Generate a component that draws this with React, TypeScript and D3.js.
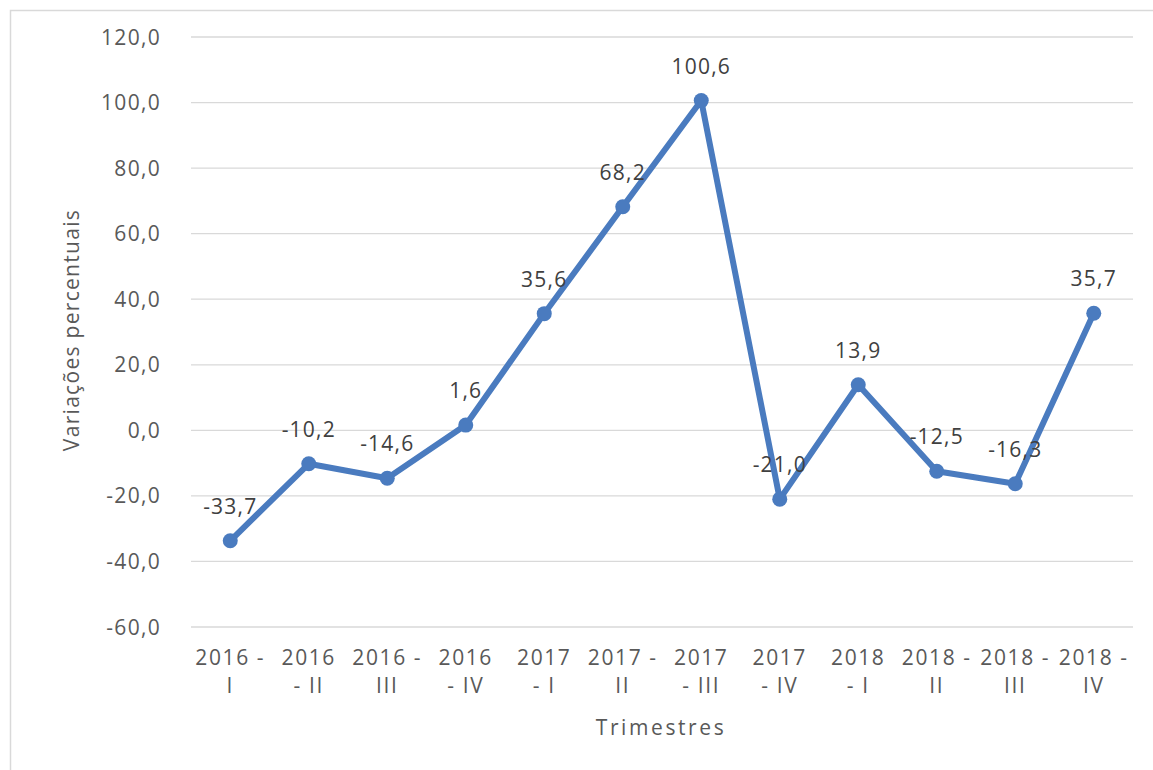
import React from 'react'
import * as d3 from 'd3'

// quarters, already broken the way the chart wraps them
const categories = [
  ['2016 -', 'I'],
  ['2016', '- II'],
  ['2016 -', 'III'],
  ['2016', '- IV'],
  ['2017', '- I'],
  ['2017 -', 'II'],
  ['2017', '- III'],
  ['2017', '- IV'],
  ['2018', '- I'],
  ['2018 -', 'II'],
  ['2018 -', 'III'],
  ['2018 -', 'IV'],
]
const values = [-33.7, -10.2, -14.6, 1.6, 35.6, 68.2, 100.6, -21.0, 13.9, -12.5, -16.3, 35.7]
const yTicks = [-60, -40, -20, 0, 20, 40, 60, 80, 100, 120]

const W = 1153
const H = 770
const FONT = '"Open Sans", sans-serif'
const BLUE = '#4A7BBF'

export default function App() {
  const x = d3.scaleBand<number>()
    .domain(d3.range(categories.length))
    .range([191, 1133])

  const y = d3.scaleLinear().domain([-60, 120]).range([627, 37])

  const fmt = (v: number) => d3.format('.1f')(v).replace('.', ',').replace('−', '-')
  const cx = (i: number) => x(i)! + x.bandwidth() / 2

  const line = d3.line<number>()
    .x((d, i) => cx(i))
    .y(d => y(d))

  return (
    <svg width={W} height={H} style={{position: 'absolute', left: 0, top: 0, background: '#fff'}}
      fontFamily={FONT}>
      {/* chart frame */}
      <path d={`M10.5,${H} V10.5 H${W}`} fill="none" stroke="#d9d9d9" strokeWidth={1.5} />

      {/* gridlines + y labels */}
      {yTicks.map(t => (
        <g key={t}>
          <line x1={191} x2={1133} y1={y(t)} y2={y(t)} stroke="#d9d9d9" strokeWidth={1.3} />
          <text x={161} y={y(t)} dy="0.36em" textAnchor="end" fontSize={21}
            letterSpacing={1.3} fill="#595959">{fmt(t)}</text>
        </g>
      ))}

      {/* x labels */}
      {categories.map((c, i) => (
        <text key={i} x={cx(i)} textAnchor="middle" fontSize={21} letterSpacing={1.6} fill="#595959">
          <tspan x={cx(i)} y={665}>{c[0]}</tspan>
          <tspan x={cx(i)} y={693}>{c[1]}</tspan>
        </text>
      ))}

      {/* series */}
      <path d={line(values)!} fill="none" stroke={BLUE} strokeWidth={6} strokeLinejoin="round" />
      {values.map((v, i) => (
        <circle key={i} cx={cx(i)} cy={y(v)} r={7.5} fill={BLUE} />
      ))}

      {/* data labels */}
      {values.map((v, i) => (
        <text key={i} x={cx(i)} y={y(v) - 27} textAnchor="middle" fontSize={21}
          letterSpacing={1.2} fill="#404040">{fmt(v)}</text>
      ))}

      {/* axis titles */}
      <text transform="translate(79,330) rotate(-90)" textAnchor="middle" fontSize={21}
        letterSpacing={1.3} fill="#595959">Variações percentuais</text>
      <text x={661} y={735} textAnchor="middle" fontSize={21} letterSpacing={2.6}
        fill="#595959">Trimestres</text>
    </svg>
  )
}
